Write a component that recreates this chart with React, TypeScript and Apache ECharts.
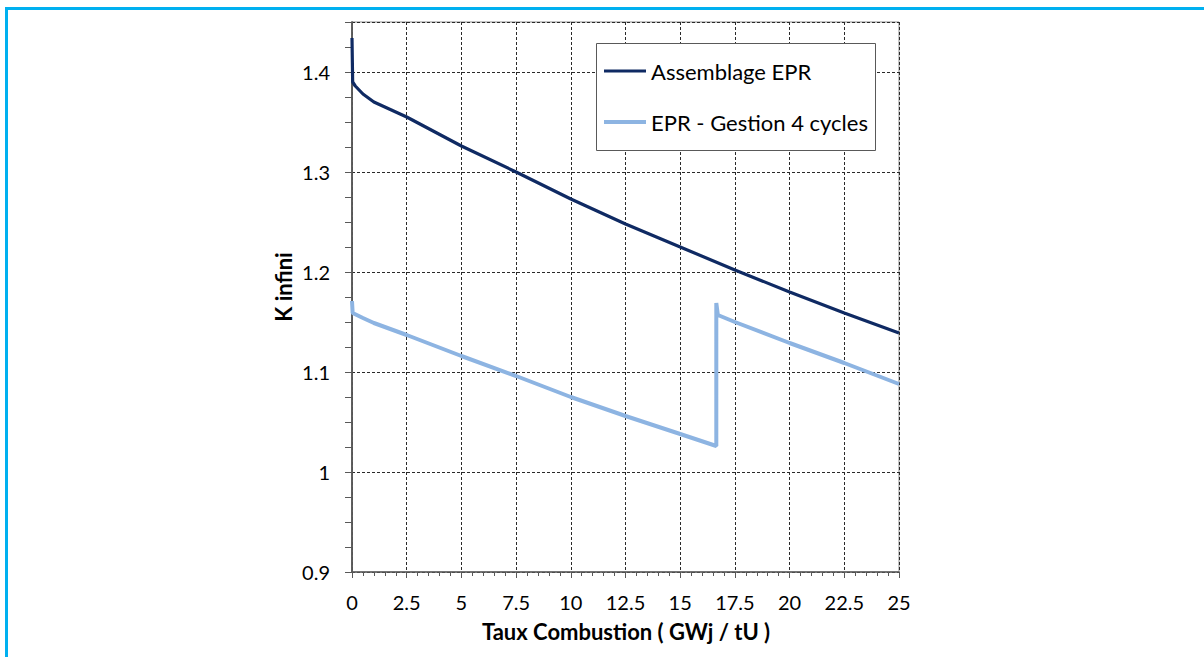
import React, { useEffect, useRef } from "react";
import * as echarts from "echarts";

const seriesNames = ["Assemblage EPR", "EPR - Gestion 4 cycles"];

const assemblageX = [0, 0.03, 0.15, 0.5, 1.0, 1.5, 2.5, 5, 7.5, 10, 12.5, 15, 17.5, 20, 22.5, 25];
const assemblageY = [1.434, 1.39, 1.386, 1.378, 1.37, 1.365, 1.355, 1.326, 1.3, 1.273, 1.248, 1.225, 1.202, 1.18, 1.159, 1.139];

const gestionX = [0, 0.03, 0.5, 1.0, 2.5, 5, 7.5, 10, 12.5, 15, 16.65, 16.65, 16.72, 17.5, 20, 22.5, 25];
const gestionY = [1.171, 1.159, 1.154, 1.149, 1.137, 1.116, 1.096, 1.075, 1.056, 1.038, 1.026, 1.169, 1.157, 1.15, 1.129, 1.109, 1.088];

const xMin = 0;
const xMax = 25;
const xStep = 2.5;
const yMin = 0.9;
const yMax = 1.45;
const yStep = 0.1;
const yMinorStep = 0.025;

const xTitle = "Taux Combustion ( GWj / tU )";
const yTitle = "K infini";

const FONT = "Lato, 'Open Sans', sans-serif";
const DARK = "#0f2a63";
const LIGHT = "#8db4e2";

export default function App() {
  const ref = useRef<HTMLDivElement>(null);
  useEffect(() => {
    document.body.style.margin = "0";
    const chart = echarts.init(ref.current!, null, { renderer: "svg" });
    const dashed = { color: "#2a2a2a", width: 1, type: [3, 2] as any };
    chart.setOption({
      animation: false,
      backgroundColor: "#ffffff",
      grid: {
        left: 352,
        right: 305,
        top: 22,
        bottom: 85,
        show: true,
        borderColor: "#8a8a8a",
        borderWidth: 1,
        backgroundColor: "transparent",
      },
      xAxis: {
        type: "value",
        min: xMin,
        max: xMax,
        interval: xStep,
        axisLine: { lineStyle: { color: "#595959", width: 1.5 } },
        axisTick: { show: true, length: 6, lineStyle: { color: "#595959", width: 1 } },
        minorTick: { show: true, splitNumber: 5, length: 4, lineStyle: { color: "#595959", width: 1 } },
        axisLabel: { fontFamily: FONT, fontSize: 20, color: "#000", margin: 20 },
        splitLine: { show: true, lineStyle: dashed },
      },
      yAxis: [
        {
          type: "value",
          position: "left",
          min: yMin,
          max: yMax,
          interval: yStep,
          axisLine: { show: true, lineStyle: { color: "#595959", width: 1.5 } },
          axisTick: { show: false },
          axisLabel: { fontFamily: FONT, fontSize: 20, color: "#000", margin: 22, showMaxLabel: false },
          splitLine: { show: true, lineStyle: dashed },
        },
        {
          type: "value",
          position: "left",
          offset: 0,
          min: yMin,
          max: yMax,
          interval: yMinorStep,
          axisLine: { show: true, lineStyle: { color: "#595959", width: 1.5 } },
          axisTick: { show: true, length: 7, lineStyle: { color: "#595959", width: 1 } },
          axisLabel: { show: false },
          splitLine: { show: false },
        },
      ],
      legend: {
        orient: "vertical",
        left: 599,
        top: 55,
        itemWidth: 42,
        itemHeight: 20,
        itemGap: 29,
        data: [
          { name: seriesNames[0], icon: "path://M0,0 L42,0 L42,3 L0,3 Z", itemStyle: { color: DARK } },
          { name: seriesNames[1], icon: "path://M0,0 L42,0 L42,4 L0,4 Z", itemStyle: { color: LIGHT } },
        ],
        textStyle: { fontFamily: FONT, fontSize: 22, color: "#000", lineHeight: 20 },
        z: 5,
      },
      graphic: [
        { type: "rect", z: 100, shape: { x: 5, y: 7, width: 1300, height: 3 }, style: { fill: "#00b0f0" } },
        { type: "rect", z: 100, shape: { x: 5, y: 7, width: 3, height: 700 }, style: { fill: "#00b0f0" } },
        {
          type: "rect",
          z: 3,
          shape: { x: 596.5, y: 43.5, width: 279, height: 107 },
          style: { fill: "#ffffff", stroke: "#595959", lineWidth: 1 },
        },
        {
          type: "text",
          x: 626,
          y: 631,
          style: {
            text: xTitle,
            font: `bold 22px ${FONT}`,
            fill: "#000",
            align: "center",
            verticalAlign: "middle",
          },
        },
        {
          type: "text",
          x: 283,
          y: 287,
          rotation: Math.PI / 2,
          style: {
            text: yTitle,
            font: `bold 22px ${FONT}`,
            fill: "#000",
            align: "center",
            verticalAlign: "middle",
          },
        },
      ],
      series: [
        {
          name: seriesNames[0],
          type: "line",
          yAxisIndex: 0,
          symbol: "none",
          data: assemblageX.map((x, i) => [x, assemblageY[i]]),
          lineStyle: { color: DARK, width: 3.2 },
          itemStyle: { color: DARK },
          z: 2,
        },
        {
          name: seriesNames[1],
          type: "line",
          yAxisIndex: 0,
          symbol: "none",
          data: gestionX.map((x, i) => [x, gestionY[i]]),
          lineStyle: { color: LIGHT, width: 4 },
          itemStyle: { color: LIGHT },
          z: 2,
        },
      ],
    });
    return () => chart.dispose();
  }, []);
  return <div ref={ref} style={{ width: 1204, height: 657 }} />;
}
